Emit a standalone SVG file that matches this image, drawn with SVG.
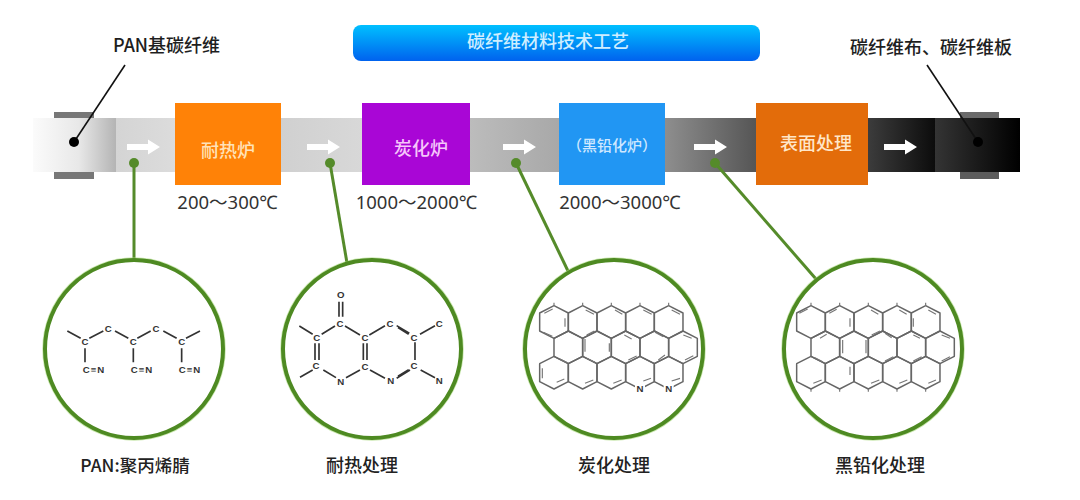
<svg xmlns="http://www.w3.org/2000/svg" xmlns:xlink="http://www.w3.org/1999/xlink" width="1080" height="500" viewBox="0 0 1080 500">
<style>
text{font-family:"Liberation Sans","Noto Sans CJK SC",sans-serif;}
.lbl{font-family:"Noto Sans CJK SC",sans-serif;font-weight:500;fill:#1e1e1e;}
.box{font-family:"Noto Sans CJK SC",sans-serif;font-weight:500;font-size:18px;text-anchor:middle;}
.tmp{font-family:"Noto Sans","Noto Sans CJK SC",sans-serif;font-size:18.500px;fill:#333;text-anchor:middle;}
.cap{font-family:"Noto Sans CJK SC",sans-serif;font-weight:500;font-size:18px;fill:#222;text-anchor:middle;}
.gl{stroke:#558b2a;stroke-width:3;fill:none;}
.gd{fill:#558b2a;}
.bl{stroke:#111;stroke-width:1.6;fill:none;}
.ring{fill:#fff;stroke:#4e8a22;stroke-width:4;}
.halo{fill:none;stroke:#a6d87a;stroke-width:5.500;opacity:.6;}
.arr{fill:#fff;}
.bond{stroke:#333;stroke-width:5;fill:none;}
.atom{font-size:29px;font-weight:700;fill:#333;text-anchor:middle;}
.cn{letter-spacing:3px;}
.hexl{fill:none;stroke:#666;stroke-width:4.500;stroke-linejoin:round;}
.dbl{stroke:#777;stroke-width:3.500;fill:none;}
</style>
<defs>
<linearGradient id="title" x1="0" y1="0" x2="0" y2="1"><stop offset="0" stop-color="#00c0ff"/><stop offset="1" stop-color="#0062ee"/></linearGradient>
<linearGradient id="s0"><stop offset="0" stop-color="#fbfbfb"/><stop offset=".55" stop-color="#e8e8e8"/><stop offset="1" stop-color="#b4b4b4"/></linearGradient>
<linearGradient id="s1"><stop offset="0" stop-color="#d4d4d4"/><stop offset="1" stop-color="#dcdcdc"/></linearGradient>
<linearGradient id="s2"><stop offset="0" stop-color="#d0d0d0"/><stop offset="1" stop-color="#d8d8d8"/></linearGradient>
<linearGradient id="s3"><stop offset="0" stop-color="#bcbcbc"/><stop offset="1" stop-color="#a8a8a8"/></linearGradient>
<linearGradient id="s4"><stop offset="0" stop-color="#8e8e8e"/><stop offset="1" stop-color="#555"/></linearGradient>
<linearGradient id="s5"><stop offset="0" stop-color="#3c3c3c"/><stop offset="1" stop-color="#0c0c0c"/></linearGradient>
<linearGradient id="s6"><stop offset="0" stop-color="#343434"/><stop offset="1" stop-color="#000"/></linearGradient>
<polygon id="hex" class="hexl" points="0,-49 43,-27 43,27 0,49 -43,27 -43,-27"/>
<path id="ar" class="arr" d="M0-3H21V-7.500L33 0 21 7.500V3H0Z"/>
</defs>
<rect width="1080" height="500" fill="#fff"/>

<g id="belt">
<rect x="54" y="112" width="40" height="6" fill="#777"/>
<rect x="54" y="172" width="40" height="7" fill="#777"/>
<rect x="960" y="112" width="39" height="7" fill="#6a6a6a"/>
<rect x="960" y="172" width="39" height="7" fill="#5c5c5c"/>
<rect x="33" y="118" width="83" height="54" fill="url(#s0)"/>
<rect x="116" y="118" width="60" height="54" fill="url(#s1)"/>
<rect x="281" y="118" width="82" height="54" fill="url(#s2)"/>
<rect x="470" y="118" width="90" height="54" fill="url(#s3)"/>
<rect x="665" y="118" width="92" height="54" fill="url(#s4)"/>
<rect x="868" y="118" width="67" height="54" fill="url(#s5)"/>
<rect x="935" y="118" width="85" height="54" fill="url(#s6)"/>
<use xlink:href="#ar" href="#ar" x="127" y="147"/>
<use xlink:href="#ar" href="#ar" x="307" y="147"/>
<use xlink:href="#ar" href="#ar" x="503" y="147"/>
<use xlink:href="#ar" href="#ar" x="694" y="147"/>
<use xlink:href="#ar" href="#ar" x="884" y="147"/>
</g>

<g id="connectors">
<line class="bl" x1="74" y1="142" x2="125" y2="65"/>
<circle cx="74" cy="142" r="5" fill="#000"/>
<line class="bl" x1="978" y1="142" x2="927" y2="65"/>
<circle cx="978" cy="142" r="5" fill="#000"/>
<line class="gl" x1="134" y1="163" x2="134" y2="262"/>
<circle class="gd" cx="134" cy="163" r="5"/>
<line class="gl" x1="330" y1="163" x2="347" y2="263"/>
<circle class="gd" cx="330" cy="163" r="5"/>
<line class="gl" x1="516" y1="163" x2="568" y2="271"/>
<circle class="gd" cx="516" cy="163" r="5"/>
<line class="gl" x1="715" y1="163" x2="816" y2="279"/>
<circle class="gd" cx="715" cy="163" r="5"/>
</g>

<g id="title-bar">
<rect x="353" y="25" width="407" height="36" rx="8" fill="url(#title)"/>
<text x="548" y="48" font-size="18" fill="#cfeeff" text-anchor="middle" style="font-family:'Noto Sans CJK SC',sans-serif;font-weight:500">碳纤维材料技术工艺</text>
</g>
<g id="label-pan"><text class="lbl" x="113" y="52" font-size="18">PAN基碳纤维</text></g>
<g id="label-output"><text class="lbl" x="850" y="54" font-size="18">碳纤维布、碳纤维板</text></g>

<g id="furnace-1">
<rect x="175" y="103" width="106" height="82" fill="#ff8207"/>
<text class="box" x="228" y="157" fill="#ffe2b8">耐热炉</text>
<text class="tmp" x="227.500" y="209">200～300℃</text>
</g>
<g id="furnace-2">
<rect x="362" y="103" width="108" height="82" fill="#a906d6"/>
<text class="box" x="421" y="155" fill="#f6c6fb">炭化炉</text>
<text class="tmp" x="416.500" y="209">1000～2000℃</text>
</g>
<g id="furnace-3">
<rect x="559" y="103" width="106" height="82" fill="#2196f3"/>
<text class="box" x="612" y="151" fill="#cfe8ff" style="font-size:15px">（黑铅化炉）</text>
<text class="tmp" x="620" y="209">2000～3000℃</text>
</g>
<g id="surface">
<rect x="756" y="103" width="112" height="82" fill="#e36c0a"/>
<text class="box" x="816" y="150" fill="#ffe6c8">表面处理</text>
</g>

<g id="mol-pan">
<circle class="halo" cx="134" cy="349" r="89"/>
<circle class="ring" cx="134" cy="349" r="89"/>
<g transform="translate(30 255) scale(.3333)">
<path class="bond" d="M112 228L152 250M178 250L220 228M255 228L295 250M322 250L362 228M400 228L440 250M468 250L510 228M165 280V322M310 280V322M455 280V322"/>
<text class="atom" x="165" y="271">C</text><text class="atom" x="235" y="231">C</text><text class="atom" x="310" y="271">C</text><text class="atom" x="378" y="231">C</text><text class="atom" x="455" y="271">C</text>
<text class="atom cn" x="192" y="355">C≡N</text><text class="atom cn" x="336" y="355">C≡N</text><text class="atom cn" x="480" y="355">C≡N</text>
</g>
<text class="cap" x="135" y="472" style="font-size:17.500px">PAN:聚丙烯腈</text>
</g>

<g id="mol-heat">
<circle class="halo" cx="372" cy="349" r="89"/>
<circle class="ring" cx="372" cy="349" r="89"/>
<g transform="translate(270 255) scale(.3333)">
<path class="bond" d="M88 213L128 238M155 238L195 213M225 213L270 240M298 240L345 212M380 212L418 235M384 218L416 238M450 238L495 212M435 262V315M207 140V185M218 140V185M280 265V315M291 265V315M135 265V315M147 265V315M90 367L128 345M160 345L198 368M228 368L270 345M300 345L345 370M380 370L420 345M384 364L416 344M452 345L495 368"/>
<text class="atom" x="212" y="130">O</text><text class="atom" x="210" y="215">C</text><text class="atom" x="140" y="258">C</text><text class="atom" x="138" y="342">C</text><text class="atom" x="212" y="390">N</text><text class="atom" x="285" y="345">C</text><text class="atom" x="285" y="258">C</text><text class="atom" x="360" y="215">C</text><text class="atom" x="432" y="258">C</text><text class="atom" x="432" y="342">C</text><text class="atom" x="362" y="388">N</text><text class="atom" x="508" y="217">C</text><text class="atom" x="508" y="388">N</text>
</g>
<text class="cap" x="362" y="472">耐热处理</text>
</g>

<g id="mol-carbon">
<circle class="halo" cx="614" cy="349" r="89"/>
<circle class="ring" cx="614" cy="349" r="89"/>
<g transform="translate(515 255) scale(.3333)">
<g transform="translate(117 201)"><use href="#hex" x="0"/><use href="#hex" x="86"/><use href="#hex" x="172"/><use href="#hex" x="258"/><use href="#hex" x="344"/></g>
<g transform="translate(160 277)"><use href="#hex" x="0"/><use href="#hex" x="86"/><use href="#hex" x="172"/><use href="#hex" x="258"/><use href="#hex" x="344"/></g>
<g transform="translate(117 353)"><use href="#hex" x="0"/><use href="#hex" x="86"/><use href="#hex" x="172"/><use href="#hex" x="258"/><use href="#hex" x="344"/></g>
<path class="dbl" d="M88 175L113 162M150 190V215M85 232L112 244M212 165L237 178M215 240L238 228M300 165L322 178M385 165L410 178M420 232L445 245M470 165L495 178M505 240L530 250M135 312L155 322M210 252V290M283 265V290M340 315L365 303M430 315L450 300M510 315L535 302M328 240L350 252M82 340V370M125 382L148 372M210 385L235 375M295 385L320 375M215 310L240 322M385 378L408 370M470 378L495 370M117 152V143M203 152V143M289 152V143M375 152V143M461 152V143"/>
<rect x="360" y="388" width="30" height="26" fill="#fff"/><rect x="446" y="388" width="30" height="26" fill="#fff"/>
<text class="atom" x="375" y="411">N</text><text class="atom" x="461" y="411">N</text>
</g>
<text class="cap" x="614" y="472">炭化处理</text>
</g>

<g id="mol-graphite">
<circle class="halo" cx="873" cy="349" r="89"/>
<circle class="ring" cx="873" cy="349" r="89"/>
<g transform="translate(770 255) scale(.3333)">
<g transform="translate(123 201)"><use href="#hex" x="0"/><use href="#hex" x="86"/><use href="#hex" x="172"/><use href="#hex" x="258"/><use href="#hex" x="344"/></g>
<g transform="translate(166 277)"><use href="#hex" x="0"/><use href="#hex" x="86"/><use href="#hex" x="172"/><use href="#hex" x="258"/><use href="#hex" x="344"/></g>
<g transform="translate(123 353)"><use href="#hex" x="0"/><use href="#hex" x="86"/><use href="#hex" x="172"/><use href="#hex" x="258"/><use href="#hex" x="344"/></g>
<path class="dbl" d="M88 175L113 162M178 175L200 163M240 190V215M303 165L325 178M388 165L410 178M430 190V215M475 165L498 178M150 250L170 238M218 255V295M288 255V295M305 240L330 228M345 235L365 248M430 240L450 250M515 240L540 250M135 308L158 320M345 318L370 305M430 318L455 305M515 318L540 305M240 335V360M130 385L155 375M303 385L328 375M388 385L412 375M475 385L498 375M123 152V143M209 152V143M295 152V143M381 152V143M467 152V143M123 402V410M209 402V410M295 402V410M381 402V410M467 402V410"/>
</g>
<text class="cap" x="880" y="472">黑铅化处理</text>
</g>
</svg>
